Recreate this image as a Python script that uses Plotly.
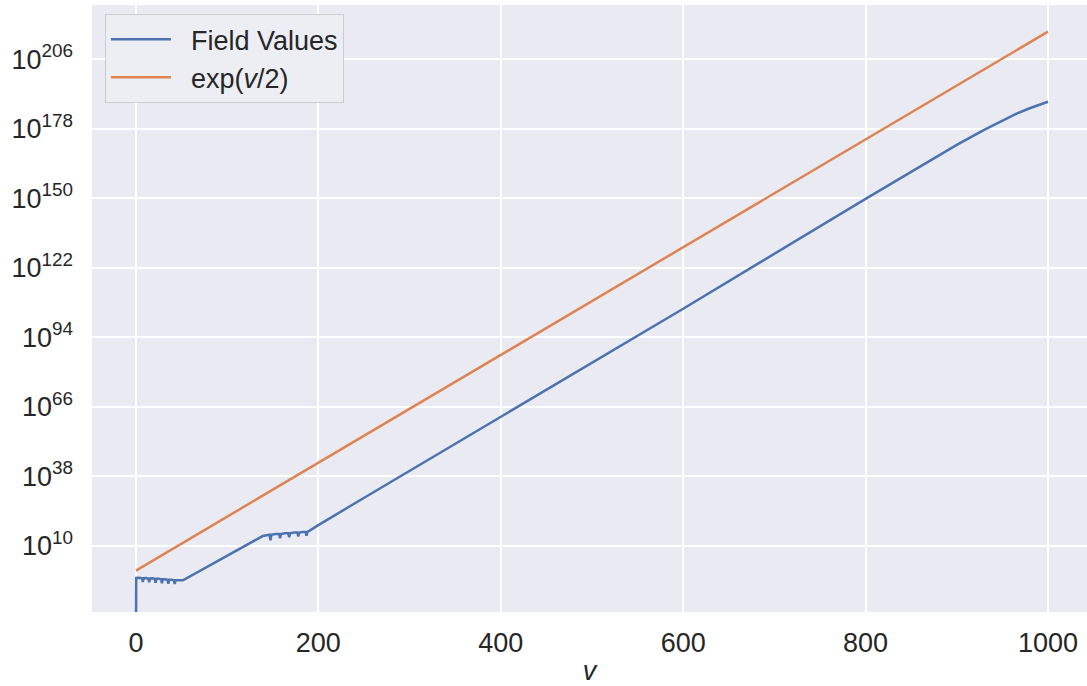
import plotly.graph_objects as go

# ---- data (y given as log10 values) ----
field_v = [0, 0.3, 3.5, 6.5, 7.5, 8.5, 11, 13.5, 14.5, 15.5, 18, 20.5, 21.5, 22.5,
           25, 27.5, 28.5, 29.5, 32, 34.5, 35.5, 36.5, 39, 41.5, 42.5, 43.5, 46,
           48.5, 51.5,
           139, 144, 146.5, 147.5, 148.5, 153, 157, 158, 159, 163, 167, 168, 169,
           173, 177, 178, 179, 183, 186, 187, 188, 190,
           200, 235, 400, 600, 800, 900, 930, 950, 965, 980, 990, 1000]
field_log10 = [-30, -3.0, -2.9, -3.1, -4.6, -3.1, -3.0, -3.2, -4.7, -3.2, -3.1, -3.3,
               -4.9, -3.3, -3.3, -3.5, -5.1, -3.5, -3.5, -3.7, -5.3, -3.7, -3.7, -3.9,
               -5.4, -3.9, -3.9, -4.0, -3.9,
               13.9, 14.4, 14.4, 12.2, 14.4, 14.7, 14.7, 13.0, 14.7, 15.0, 15.0, 13.4,
               15.0, 15.3, 15.3, 13.7, 15.3, 15.5, 15.5, 14.0, 15.6, 16.0,
               18.3, 26.0, 61.8, 105.5, 149.8, 171.5, 177.6, 181.4, 184.0, 186.3, 187.6, 188.9]

exp_v = [0, 1000]
exp_log10 = [0.0, 217.15]

y_tick_exponents = [10, 38, 66, 94, 122, 150, 178, 206]
x_tick_values = [0, 200, 400, 600, 800, 1000]

field_values = [10.0 ** e for e in field_log10]
exp_values = [10.0 ** e for e in exp_log10]

FONT = "Liberation Sans, Arial, sans-serif"
TXT = "#262626"
FS = 27
NB = "\u00a0\u00a0"

fig = go.Figure()
fig.add_trace(go.Scatter(x=field_v, y=field_values, mode="lines", name=NB + "Field Values",
                         line=dict(color="#4C72B0", width=2.5)))
fig.add_trace(go.Scatter(x=exp_v, y=exp_values, mode="lines", name=NB + "exp(<i>v</i>/2)",
                         line=dict(color="#DD8452", width=2.5)))

fig.update_layout(
    width=1087, height=686,
    margin=dict(l=92, r=0, t=5, b=74, autoexpand=False),
    paper_bgcolor="white",
    plot_bgcolor="#EAEAF2",
    font=dict(family=FONT, size=FS, color=TXT),
    showlegend=True,
    legend=dict(
        x=0.013, y=0.985, xanchor="left", yanchor="top",
        bgcolor="#EDEDF4", bordercolor="#CCCCCC", borderwidth=1,
        font=dict(family=FONT, size=FS, color=TXT),
        itemwidth=60, tracegroupgap=4,
    ),
    xaxis=dict(
        range=[-48.2, 1042.8],
        tickmode="array", tickvals=x_tick_values,
        ticktext=[str(v) for v in x_tick_values],
        showgrid=True, gridcolor="white", gridwidth=1.5,
        zeroline=False, showline=False, ticks="",
        automargin=False,
        ticklabelstandoff=12,
        title=dict(text="<i>v</i>", font=dict(family=FONT, size=FS, color=TXT), standoff=4),
    ),
    yaxis=dict(
        type="log",
        range=[-16.7, 227.9],
        tickmode="array",
        tickvals=[10.0 ** e for e in y_tick_exponents],
        ticktext=["10<sup>%d</sup>" % e for e in y_tick_exponents],
        showgrid=True, gridcolor="white", gridwidth=1.5,
        zeroline=False, showline=False, ticks="",
        automargin=False,
        ticklabelstandoff=18,
    ),
)

fig.write_html("out.html",
               config={"displayModeBar": False},
               post_script="document.body.style.margin='0';document.body.style.padding='0';")
